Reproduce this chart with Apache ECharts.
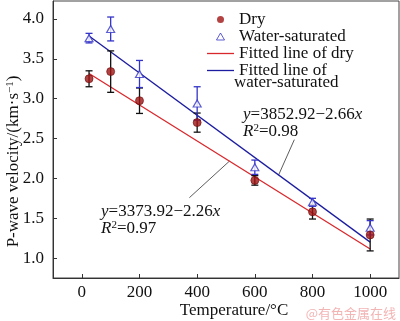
<!DOCTYPE html>
<html><head><meta charset="utf-8">
<script src="https://cdn.jsdelivr.net/npm/echarts@6/dist/echarts.min.js"></script>
<style>html,body{margin:0;padding:0;background:#fff}#c{width:400px;height:321px}</style>
</head><body><div id="c"></div>
<script>
const temps = [25, 100, 200, 400, 600, 800, 1000];
const dryVel = [3.25, 3.34, 2.975, 2.70, 1.975, 1.58, 1.29];
const dryErr = [0.10, 0.26, 0.16, 0.12, 0.06, 0.09, 0.20];
const wetVel = [3.76, 3.875, 3.31, 2.94, 2.14, 1.70, 1.38];
const wetErr = [0.06, 0.15, 0.17, 0.21, 0.09, 0.05, 0.09];
const dryFit = [[25, 3.317], [1000, 1.114]];
const wetFit = [[25, 3.786], [1000, 1.200]];
const xTicks = [0, 200, 400, 600, 800, 1000];
const yTicks = [1.0, 1.5, 2.0, 2.5, 3.0, 3.5, 4.0];

const FONT = '"Liberation Serif","Times New Roman",serif';
const RED = '#d8282c', BLUE = '#1c1ca0', TRI = '#3434c8', DRYFILL = '#a01414';

function errSeries(name, vals, errs, color) {
  return {
    type: 'custom', name: name, silent: true, z: 3,
    data: temps.map((t, i) => [t, vals[i] - errs[i], vals[i] + errs[i]]),
    encode: { x: 0, y: [1, 2] },
    renderItem: function (params, api) {
      const x = api.value(0);
      const lo = api.coord([x, api.value(1)]);
      const hi = api.coord([x, api.value(2)]);
      const w = 3.5;
      const st = { stroke: color, lineWidth: 1.3 };
      return { type: 'group', children: [
        { type: 'line', shape: { x1: lo[0], y1: lo[1], x2: hi[0], y2: hi[1] }, style: st },
        { type: 'line', shape: { x1: lo[0] - w, y1: lo[1], x2: lo[0] + w, y2: lo[1] }, style: st },
        { type: 'line', shape: { x1: hi[0] - w, y1: hi[1], x2: hi[0] + w, y2: hi[1] }, style: st }
      ]};
    }
  };
}

const chart = echarts.init(document.getElementById('c'), null, { renderer: 'canvas' });
const axisLine = { onZero: false, lineStyle: { color: '#333', width: 1 } };
chart.setOption({
  animation: false,
  backgroundColor: '#fff',
  grid: { left: 53, top: 1, width: 346, height: 277, containLabel: false, outerBoundsMode: 'none',
    show: true, borderColor: '#444', borderWidth: 1 },
  xAxis: {
    type: 'value', min: -100, max: 1100,
    name: 'Temperature/°C', nameLocation: 'middle', nameGap: 24, nameMoveOverlap: false,
    nameTextStyle: { fontFamily: FONT, fontSize: 17, color: '#111', padding: [0, 0, 0, 16] },
    axisLine: axisLine,
    axisTick: { inside: true, length: 4, customValues: xTicks, lineStyle: { color: '#333' } },
    axisLabel: { customValues: xTicks, fontFamily: FONT, fontSize: 17, color: '#111', margin: 6,
      formatter: v => String(v) },
    splitLine: { show: false }
  },
  yAxis: {
    type: 'value', min: 0.75, max: 4.226,
    name: 'P-wave velocity/(km·s{s|−1})', nameLocation: 'middle', nameGap: 31, nameRotate: 90,
    nameMoveOverlap: false,
    nameTextStyle: { fontFamily: FONT, fontSize: 17, color: '#111', padding: [0, 44, 0, 0],
      rich: { s: { fontFamily: FONT, fontSize: 11, color: '#111', verticalAlign: 'top', lineHeight: 11 } } },
    axisLine: axisLine,
    axisTick: { inside: true, length: 4, customValues: yTicks, lineStyle: { color: '#333' } },
    axisLabel: { customValues: yTicks, fontFamily: FONT, fontSize: 17, color: '#111', margin: 9,
      formatter: v => v.toFixed(1) },
    splitLine: { show: false }
  },
  legend: {
    orient: 'vertical', left: 202, top: 6, itemWidth: 27, itemHeight: 7, itemGap: 0,
    selectedMode: false,
    textStyle: { fontFamily: FONT, fontSize: 17, color: '#111', lineHeight: 17 },
    data: [
      { name: 'Dry', icon: 'circle', itemStyle: { borderWidth: 0 } },
      { name: 'Water-saturated', icon: 'path://M5,0L10,8.66L0,8.66Z', itemStyle: { borderWidth: 1 } },
      { name: 'Fitted line of dry', icon: 'path://M0,0L27,0L27,1.3L0,1.3Z' },
      { name: 'Fitted line of water-saturated', icon: 'path://M0,0L27,0L27,1.3L0,1.3Z' }
    ],
    formatter: n => n === 'Fitted line of water-saturated' ? 'Fitted line of' : n
  },
  series: [
    { name: 'Fitted line of dry', type: 'line', data: dryFit, symbol: 'none', z: 2,
      lineStyle: { color: RED, width: 1.3 }, itemStyle: { color: RED } },
    { name: 'Fitted line of water-saturated', type: 'line', data: wetFit, symbol: 'none', z: 2,
      lineStyle: { color: BLUE, width: 1.3 }, itemStyle: { color: BLUE } },
    errSeries('errDry', dryVel, dryErr, '#111'),
    errSeries('errWet', wetVel, wetErr, TRI),
    { name: 'Water-saturated', type: 'scatter', symbol: 'triangle', symbolSize: [8, 7], z: 4,
      data: temps.map((t, i) => [t, wetVel[i]]),
      itemStyle: { color: '#fff', borderColor: TRI, borderWidth: 1.2 } },
    { name: 'Dry', type: 'scatter', symbol: 'circle', symbolSize: 8, z: 5,
      data: temps.map((t, i) => [t, dryVel[i]]),
      itemStyle: { color: DRYFILL, borderColor: '#6a0c0c', borderWidth: 0.8 } }
  ]
});

const p = (x, y) => chart.convertToPixel({ gridIndex: 0 }, [x, y]);
const richTxt = { i: { fontStyle: 'italic', fontFamily: FONT, fontSize: 17, fill: '#111' },
  s: { fontFamily: FONT, fontSize: 11, fill: '#111', verticalAlign: 'top', lineHeight: 11 } };
const wA = p(737, 2.486), wB = p(682, 2.039);
const dA = p(373, 1.758), dB = p(512, 2.217);
chart.setOption({
  graphic: [
    { type: 'text', left: 234, top: 74, style: { text: 'water-saturated', font: '17px ' + FONT, fill: '#111' } },
    { type: 'text', x: 243, y: 106, style: { text: '{i|y}=3852.92−2.66{i|x}\n{i|R}{s|2}=0.98', font: '17px ' + FONT, fill: '#111', lineHeight: 17, rich: richTxt } },
    { type: 'text', x: 101, y: 203, style: { text: '{i|y}=3373.92−2.26{i|x}\n{i|R}{s|2}=0.97', font: '17px ' + FONT, fill: '#111', lineHeight: 17, rich: richTxt } },
    { type: 'line', shape: { x1: wA[0], y1: wA[1], x2: wB[0], y2: wB[1] }, style: { stroke: '#333', lineWidth: 0.8 } },
    { type: 'line', shape: { x1: dA[0], y1: dA[1], x2: dB[0], y2: dB[1] }, style: { stroke: '#333', lineWidth: 0.8 } },
    { type: 'text', right: 4, bottom: 1, style: { text: '@有色金属在线', font: '13px "Noto Sans CJK SC"', fill: '#f3b4b4' } }
  ]
});
</script></body></html>
